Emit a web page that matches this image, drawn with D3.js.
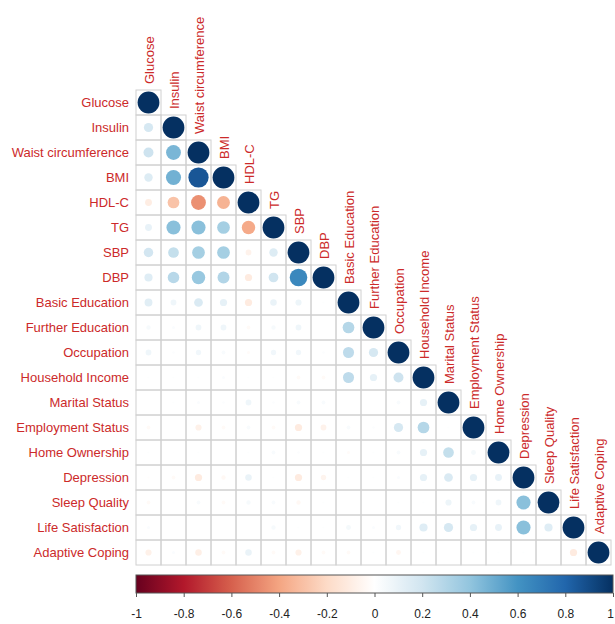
<!DOCTYPE html>
<html>
<head>
<meta charset="utf-8">
<script src="https://cdn.jsdelivr.net/npm/d3@7"></script>
<style>
  body { margin: 0; background: #fff; }
  text { font-family: "Liberation Sans", Arial, sans-serif; }
</style>
</head>
<body>
<div id="chart"></div>
<script>
var labels = ["Glucose", "Insulin", "Waist circumference", "BMI", "HDL-C", "TG", "SBP", "DBP",
  "Basic Education", "Further Education", "Occupation", "Household Income", "Marital Status",
  "Employment Status", "Home Ownership", "Depression", "Sleep Quality", "Life Satisfaction", "Adaptive Coping"];

// lower triangle, row i holds correlations with columns 0..i-1 (diagonal is 1)
var lowerTri = [
  [],
  [0.18],
  [0.21, 0.46],
  [0.15, 0.48, 0.86],
  [-0.10, -0.29, -0.46, -0.35],
  [0.10, 0.42, 0.42, 0.34, -0.38],
  [0.19, 0.24, 0.34, 0.34, -0.07, 0.15],
  [0.14, 0.28, 0.38, 0.30, -0.11, 0.20, 0.65],
  [0.13, 0.07, 0.16, 0.11, -0.11, 0.09, 0.08, 0.01],
  [0.04, 0.02, 0.07, 0.07, -0.03, 0.04, 0.07, 0.003, 0.29],
  [0.07, 0.015, 0.06, 0.03, -0.02, 0.06, 0.06, 0.015, 0.26, 0.18],
  [0.01, 0.01, 0.01, 0.02, 0.01, 0.01, -0.03, -0.03, 0.26, 0.11, 0.21],
  [0.002, 0.01, 0.02, 0.015, 0.07, 0.015, 0.03, 0.03, 0.002, 0.002, 0.03, 0.11],
  [-0.03, 0.002, -0.08, -0.03, 0.03, -0.03, -0.11, -0.07, 0.03, 0.015, 0.18, 0.29, 0.01],
  [0.01, 0.005, 0.01, 0.002, 0.01, 0.03, 0.015, 0.01, -0.02, 0.01, 0.03, 0.11, 0.24, 0.05],
  [-0.01, -0.03, -0.11, -0.04, 0.09, 0.01, -0.11, -0.06, 0.01, 0.01, 0.02, 0.11, 0.16, 0.11, 0.10],
  [-0.03, 0.005, 0.03, -0.03, 0.04, 0.03, -0.04, 0.01, 0.002, 0.002, 0.01, 0.01, 0.08, 0.03, 0.07, 0.42],
  [0.02, 0.002, 0.002, 0.002, 0.002, 0.04, 0.01, 0.01, 0.05, 0.02, 0.06, 0.14, 0.18, 0.11, 0.10, 0.42, 0.14],
  [-0.08, 0.02, -0.09, -0.03, 0.09, -0.03, -0.08, -0.03, -0.03, 0.01, -0.05, 0.01, 0.002, 0.01, 0.01, 0.01, 0.002, -0.11]
];

var barTicks = [-1, -0.8, -0.6, -0.4, -0.2, 0, 0.2, 0.4, 0.6, 0.8, 1];
var paletteStops = ["#67001F", "#B2182B", "#D6604D", "#F4A582", "#FDDBC7", "#FFFFFF",
  "#D1E5F0", "#92C5DE", "#4393C3", "#2166AC", "#053061"];

var width = 615, height = 624;
var gridLeft = 136, gridTop = 90, cell = 25;
var n = labels.length;
var labelCol = "#cc2a2a";

var svg = d3.select("#chart").append("svg")
  .attr("width", width)
  .attr("height", height);

var x = d3.scaleBand().domain(labels).range([gridLeft, gridLeft + n * cell]);
var y = d3.scaleBand().domain(labels).range([gridTop, gridTop + n * cell]);
var color = d3.scaleLinear()
  .domain(d3.range(paletteStops.length).map(function (i) { return -1 + i * 0.2; }))
  .range(paletteStops);
var radius = d3.scaleSqrt().domain([0, 1]).range([0, 10.9]);

// flatten to cells
var cells = [];
lowerTri.forEach(function (row, i) {
  row.forEach(function (v, j) { cells.push({ r: labels[i], c: labels[j], v: v }); });
  cells.push({ r: labels[i], c: labels[i], v: 1 });
});

svg.append("g").selectAll("rect")
  .data(cells)
  .enter().append("rect")
  .attr("x", function (d) { return x(d.c); })
  .attr("y", function (d) { return y(d.r); })
  .attr("width", cell)
  .attr("height", cell)
  .attr("fill", "none")
  .attr("stroke", "#d0d0d0")
  .attr("stroke-width", 1);

svg.append("g").selectAll("circle")
  .data(cells)
  .enter().append("circle")
  .attr("cx", function (d) { return x(d.c) + cell / 2; })
  .attr("cy", function (d) { return y(d.r) + cell / 2; })
  .attr("r", function (d) { return radius(Math.abs(d.v)); })
  .attr("fill", function (d) { return color(d.v); });

// row labels
svg.append("g").selectAll("text")
  .data(labels)
  .enter().append("text")
  .attr("x", gridLeft - 7)
  .attr("y", function (d) { return y(d) + cell / 2; })
  .attr("dy", "0.35em")
  .attr("text-anchor", "end")
  .style("font-size", "13px")
  .style("fill", labelCol)
  .text(function (d) { return d; });

// column labels on the diagonal
svg.append("g").selectAll("text")
  .data(labels)
  .enter().append("text")
  .attr("transform", function (d) {
    return "translate(" + (x(d) + cell / 2 + 5) + "," + (y(d) - 6) + ") rotate(-90)";
  })
  .attr("text-anchor", "start")
  .style("font-size", "13px")
  .style("fill", labelCol)
  .text(function (d) { return d; });

// colour bar
var barX = d3.scaleLinear().domain([-1, 1]).range([136, 613]);
var grad = svg.append("defs").append("linearGradient")
  .attr("id", "cbar")
  .attr("x1", "0%").attr("x2", "100%");
grad.selectAll("stop")
  .data(d3.range(0, 1.0001, 0.02))
  .enter().append("stop")
  .attr("offset", function (t) { return (t * 100) + "%"; })
  .attr("stop-color", function (t) { return color(-1 + 2 * t); });

svg.append("rect")
  .attr("x", barX(-1))
  .attr("y", 575)
  .attr("width", barX(1) - barX(-1))
  .attr("height", 18)
  .attr("fill", "url(#cbar)")
  .attr("stroke", "#555")
  .attr("stroke-width", 1);

var axis = svg.append("g")
  .attr("transform", "translate(0,593)")
  .call(d3.axisBottom(barX).tickValues(barTicks).tickSize(4).tickPadding(12)
    .tickFormat(function (d) { return String(d); }));
axis.select(".domain").remove();
axis.selectAll("line").attr("stroke", "#555");
axis.selectAll("text")
  .style("font-size", "12px")
  .style("font-family", "'Liberation Sans', Arial, sans-serif")
  .attr("fill", "#222")
  .attr("dx", function (d) { return d === 1 ? -3 : 0; });
</script>
</body>
</html>
